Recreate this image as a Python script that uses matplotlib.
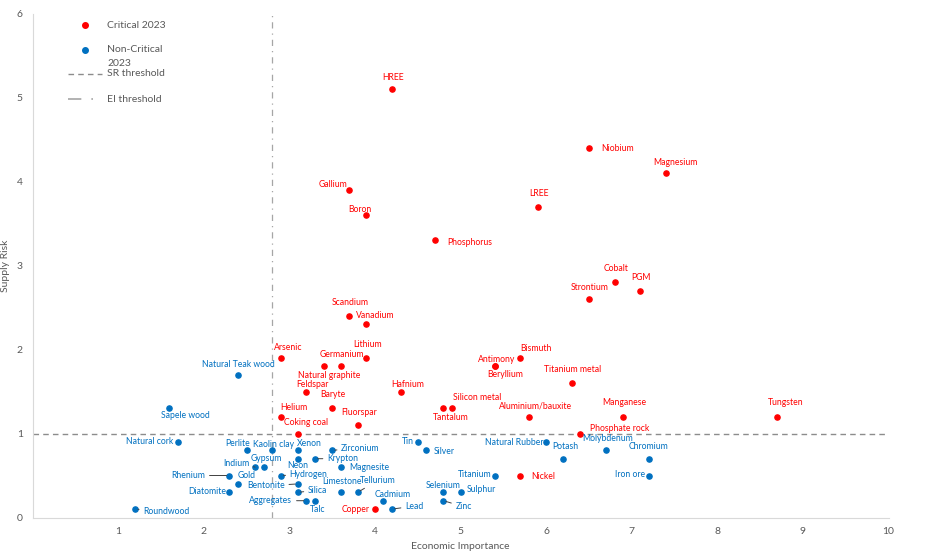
import matplotlib.pyplot as plt
from matplotlib.lines import Line2D

plt.rcParams['font.family'] = ['Lato', 'DejaVu Sans']

# critical raw materials 2023: economic importance / supply risk
crit_names = ['HREE', 'Gallium', 'Boron', 'Phosphorus', 'Scandium', 'Vanadium',
              'Niobium', 'Magnesium', 'LREE', 'Cobalt', 'PGM', 'Strontium',
              'Arsenic', 'Germanium', 'Natural graphite', 'Lithium', 'Feldspar',
              'Hafnium', 'Baryte', 'Helium', 'Fluorspar', 'Coking coal',
              'Silicon metal', 'Tantalum', 'Antimony', 'Beryllium', 'Bismuth',
              'Titanium metal', 'Aluminium/bauxite', 'Manganese', 'Tungsten',
              'Phosphate rock', 'Nickel', 'Copper']
crit_ei = [4.2, 3.7, 3.9, 4.7, 3.7, 3.9,
           6.5, 7.4, 5.9, 6.8, 7.1, 6.5,
           2.9, 3.6, 3.4, 3.9, 3.2,
           4.3, 3.5, 2.9, 3.8, 3.1,
           4.9, 4.8, 5.4, 5.4, 5.7,
           6.3, 5.8, 6.9, 8.7,
           6.4, 5.7, 4.0]
crit_sr = [5.1, 3.9, 3.6, 3.3, 2.4, 2.3,
           4.4, 4.1, 3.7, 2.8, 2.7, 2.6,
           1.9, 1.8, 1.8, 1.9, 1.5,
           1.5, 1.3, 1.2, 1.1, 1.0,
           1.3, 1.3, 1.8, 1.8, 1.9,
           1.6, 1.2, 1.2, 1.2,
           1.0, 0.5, 0.1]

# non-critical raw materials 2023
ncrit_names = ['Natural Teak wood', 'Sapele wood', 'Natural cork', 'Perlite',
               'Kaolin clay', 'Xenon', 'Zirconium', 'Indium', 'Gypsum', 'Neon',
               'Krypton', 'Magnesite', 'Rhenium', 'Gold', 'Diatomite',
               'Hydrogen', 'Bentonite', 'Silica', 'Limestone', 'Tellurium',
               'Aggregates', 'Talc', 'Roundwood', 'Cadmium', 'Lead', 'Tin',
               'Silver', 'Natural Rubber', 'Potash', 'Molybdenum', 'Chromium',
               'Iron ore', 'Titanium', 'Selenium', 'Sulphur', 'Zinc']
ncrit_ei = [2.4, 1.6, 1.7, 2.5,
            2.8, 3.1, 3.5, 2.6, 2.7, 3.1,
            3.3, 3.6, 2.3, 2.4, 2.3,
            2.9, 3.1, 3.1, 3.6, 3.8,
            3.2, 3.3, 1.2, 4.1, 4.2, 4.5,
            4.6, 6.0, 6.2, 6.7, 7.2,
            7.2, 5.4, 4.8, 5.0, 4.8]
ncrit_sr = [1.7, 1.3, 0.9, 0.8,
            0.8, 0.8, 0.8, 0.6, 0.6, 0.7,
            0.7, 0.6, 0.5, 0.4, 0.3,
            0.5, 0.4, 0.3, 0.3, 0.3,
            0.2, 0.2, 0.1, 0.2, 0.1, 0.9,
            0.8, 0.9, 0.7, 0.8, 0.7,
            0.5, 0.5, 0.3, 0.3, 0.2]

sr_threshold = 1.0
ei_threshold = 2.8

RED = '#FF0000'
BLUE = '#0070C0'
GREY = '#595959'
SR_LS = (0, (4, 3))
EI_LS = (0, (5, 4, 1, 4))

# label placement: name -> (dx px, dy px, align, leader line)
label_pos = {
    'HREE': (1, 12, 'center', False), 'Gallium': (-2, 5, 'right', False),
    'Boron': (-6, 6, 'center', False), 'Phosphorus': (12, -2, 'left', False),
    'Scandium': (1, 13, 'center', False), 'Vanadium': (-10, 9, 'left', False),
    'Niobium': (12, -1, 'left', False), 'Magnesium': (9, 11, 'center', False),
    'LREE': (1, 13, 'center', False), 'Cobalt': (1, 14, 'center', False),
    'PGM': (1, 13, 'center', False), 'Strontium': (1, 12, 'center', False),
    'Arsenic': (7, 10, 'center', False), 'Germanium': (1, 12, 'center', False),
    'Natural graphite': (6, -9, 'center', False), 'Lithium': (1, 13, 'center', False),
    'Feldspar': (6, 7, 'center', False), 'Hafnium': (7, 7, 'center', False),
    'Baryte': (1, 14, 'center', False), 'Helium': (13, 9, 'center', False),
    'Fluorspar': (1, 13, 'center', False), 'Coking coal': (8, 11, 'center', False),
    'Silicon metal': (25, 11, 'center', False), 'Tantalum': (7, -9, 'center', False),
    'Antimony': (2, 7, 'center', False), 'Beryllium': (10, -8, 'center', False),
    'Bismuth': (16, 9, 'center', False), 'Titanium metal': (1, 14, 'center', False),
    'Aluminium/bauxite': (7, 11, 'center', False), 'Manganese': (1, 14, 'center', False),
    'Tungsten': (8, 14, 'center', False), 'Phosphate rock': (10, 5, 'left', False),
    'Nickel': (11, -1, 'left', False), 'Copper': (-5, 0, 'right', False),
    'Natural Teak wood': (0, 10, 'center', False), 'Sapele wood': (16, -7, 'center', False),
    'Natural cork': (-5, 0, 'right', False), 'Perlite': (-9, 7, 'center', False),
    'Kaolin clay': (1, 6, 'center', False), 'Xenon': (11, 7, 'center', False),
    'Zirconium': (9, 2, 'left', True), 'Indium': (-6, 4, 'right', True),
    'Gypsum': (3, 9, 'center', False), 'Neon': (0, -7, 'center', False),
    'Krypton': (12, 0, 'left', True), 'Magnesite': (9, 0, 'left', False),
    'Rhenium': (-24, 0, 'right', True), 'Gold': (9, 8, 'center', False),
    'Diatomite': (-3, 1, 'right', False), 'Hydrogen': (9, 1, 'left', True),
    'Bentonite': (-13, -2, 'right', True), 'Silica': (10, 2, 'left', True),
    'Limestone': (1, 11, 'center', False), 'Tellurium': (20, 12, 'center', True),
    'Aggregates': (-14, 0, 'right', True), 'Talc': (3, -9, 'center', False),
    'Roundwood': (8, -2, 'left', True), 'Cadmium': (9, 6, 'center', False),
    'Lead': (13, 3, 'left', True), 'Tin': (-4, 0, 'right', False),
    'Silver': (7, -1, 'left', False), 'Natural Rubber': (-3, -1, 'right', False),
    'Potash': (2, 12, 'center', False), 'Molybdenum': (2, 12, 'center', False),
    'Chromium': (0, 12, 'center', False), 'Iron ore': (-4, 1, 'right', False),
    'Titanium': (-3, 1, 'right', False), 'Selenium': (0, 7, 'center', False),
    'Sulphur': (6, 3, 'left', False), 'Zinc': (12, -6, 'left', True),
}

W, H = 932, 555
fig = plt.figure(figsize=(W / 100, H / 100), dpi=100)
ax = fig.add_axes([32.5 / W, 1 - 517.5 / H, 856 / W, 504 / H])

ax.scatter(crit_ei, crit_sr, s=14, color=RED, zorder=3)
ax.scatter(ncrit_ei, ncrit_sr, s=14, color=BLUE, zorder=3)

ax.axhline(sr_threshold, color='#8c8c8c', lw=1.0, ls=SR_LS, zorder=1)
ax.axvline(ei_threshold, color='#a6a6a6', lw=0.9, ls=EI_LS, zorder=1)


def put_labels(names, xs, ys, col):
    for n, x, y in zip(names, xs, ys):
        dx, dy, ha, leader = label_pos[n]
        arrow = None
        if leader:
            arrow = dict(arrowstyle='-', color='#404040', lw=0.7,
                         shrinkA=1, shrinkB=2)
        ax.annotate(n, (x, y), xytext=(dx, dy), textcoords='offset pixels',
                    ha=ha, va='center', fontsize=6.2, color=col,
                    arrowprops=arrow, zorder=4)


put_labels(crit_names, crit_ei, crit_sr, RED)
put_labels(ncrit_names, ncrit_ei, ncrit_sr, BLUE)

ax.set_xlim(0, 10)
ax.set_ylim(0, 6)
ax.set_xticks(range(1, 11))
ax.set_yticks(range(0, 7))
ax.tick_params(length=0, labelsize=7.5, colors=GREY, pad=7)
for side in ['top', 'right']:
    ax.spines[side].set_visible(False)
ax.spines['left'].set_color('#d9d9d9')
ax.spines['bottom'].set_color('#d9d9d9')
ax.set_xlabel('Economic Importance', fontsize=7.5, color=GREY, labelpad=4)
ax.set_ylabel('Supply Risk', fontsize=7.5, color=GREY, labelpad=5)

# legend drawn by hand (Excel style: marker on first text line)
def fx(px):
    return px / W


def fy(py):
    return 1 - py / H


fig.add_artist(Line2D([fx(85)], [fy(25)], marker='o', ms=4, color=RED,
                      transform=fig.transFigure))
fig.add_artist(Line2D([fx(85)], [fy(50)], marker='o', ms=4, color=BLUE,
                      transform=fig.transFigure))
fig.add_artist(Line2D([fx(68), fx(102)], [fy(74), fy(74)], color='#8c8c8c',
                      lw=1.0, ls=SR_LS, transform=fig.transFigure))
fig.add_artist(Line2D([fx(68), fx(102)], [fy(99), fy(99)], color='#a6a6a6',
                      lw=1.2, ls=(0, (8, 6, 1, 6)), transform=fig.transFigure))
leg_text = [('Critical 2023', 25), ('Non-Critical', 50), ('2023', 63),
            ('SR threshold', 74), ('EI threshold', 99)]
for t, py in leg_text:
    fig.text(fx(107), fy(py), t, fontsize=7.5, color=GREY, va='center')

fig.savefig('out.png', dpi=100)
